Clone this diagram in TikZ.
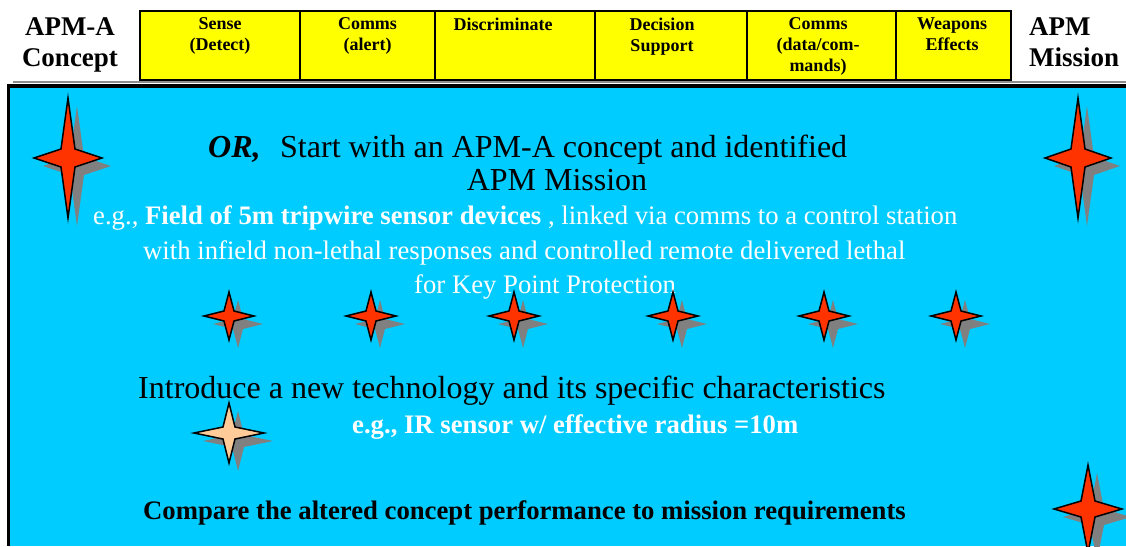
\documentclass[tikz,border=0pt]{standalone}
\usepackage{fontspec}
\setmainfont{Liberation Serif}
\definecolor{hdryellow}{HTML}{FFFF00}
\definecolor{bodyblue}{HTML}{00CCFF}
\definecolor{starred}{HTML}{FF3300}
\definecolor{starpeach}{HTML}{FFCC99}
\definecolor{shadowgray}{HTML}{808080}
\definecolor{rulegray}{HTML}{8C8C8C}
\tikzset{
  cell/.style={draw=black, line width=1.5pt, fill=hdryellow},
  celltext/.style={font=\fontsize{18}{21}\selectfont\bfseries, align=center, anchor=north, inner sep=0pt},
  sidetext/.style={font=\fontsize{27}{31}\selectfont\bfseries, inner sep=0pt},
  bigtext/.style={font=\fontsize{32}{33}\selectfont, inner sep=0pt, anchor=base west},
  midtext/.style={font=\fontsize{26.7}{35}\selectfont, inner sep=0pt, anchor=base west},
  starline/.style={draw=black, line width=1.5pt, line join=miter},
}
\newcommand\fourstarpath[4]{(#1,0) -- (#3,#4) -- (0,#2) -- (-#3,#4) -- (-#1,0) -- (-#3,-#4) -- (0,-#2) -- (#3,-#4) -- cycle}
\newcommand\drawfourstar[7]{%
  \begin{scope}[shift={(#1,#2)}]
    \begin{scope}[shift={(9,8)}]
      \fill[shadowgray] \fourstarpath{#3}{#4}{#5}{#6};
    \end{scope}
    \filldraw[starline, fill=#7] \fourstarpath{#3}{#4}{#5}{#6};
  \end{scope}}
\begin{document}
\begin{tikzpicture}[x=1pt, y=-1pt]
\useasboundingbox (0,0) rectangle (1126,546);
\fill[white] (0,0) rectangle (1126,546);
% body box
\fill[bodyblue] (9,86) rectangle (1126,546);
\draw[rulegray, line width=2pt] (13,82) -- (1126,82);
\draw[black, line width=4pt] (7,85.5) -- (1126,85.5);
\draw[black, line width=3pt] (8.5,84) -- (8.5,546);
% header cells
\draw[cell] (140,11) rectangle (300,80);
\draw[cell] (300,11) rectangle (435,80);
\draw[cell] (435,11) rectangle (595,80);
\draw[cell] (595,11) rectangle (747,80);
\draw[cell] (747,11) rectangle (896,80);
\draw[cell] (896,11) rectangle (1011,80);
\node[celltext] (c1) at (220,17.5) {Sense\\(Detect)};
\node[celltext] (c2) at (367.5,17.5) {Comms\\(alert)};
\node[celltext] (c3) at (503,17.5) {Discriminate};
\node[celltext] (c4) at (662,17.5) {Decision\\Support};
\node[celltext] (c5) at (818,17.5) {Comms\\(data/com-\\mands)};
\node[celltext] (c6) at (952,17.5) {Weapons\\Effects};
\node[sidetext, align=center, anchor=north] (concept) at (70,17) {APM-A\\Concept};
\node[sidetext, align=left, anchor=north west] (mission) at (1029,17) {APM\\Mission};
% body texts
\node[bigtext] (or) at (208,157) {\textbf{\textit{OR,}}};
\node[bigtext] (start) at (280,157) {Start with an APM-A concept and identified};
\node[bigtext, anchor=base] (apmm) at (557,190) {APM Mission};
\node[midtext, text=white] (eg1) at (93,224) {e.g., \textbf{Field of 5m tripwire sensor devices} , linked via comms to a control station};
\node[midtext, text=white] (eg2) at (143,259) {with infield non-lethal responses and controlled remote delivered lethal};
\node[midtext, text=white] (eg3) at (414,293) {for Key Point Protection};
\node[bigtext] (intro) at (138,398) {Introduce a new technology and its specific characteristics};
\node[midtext, text=white, font=\fontsize{26.7}{30}\selectfont\bfseries] (ir) at (352,433) {e.g., IR sensor w/ effective radius =10m};
\node[midtext, font=\fontsize{26.7}{30}\selectfont\bfseries] (compare) at (143,519) {Compare the altered concept performance to mission requirements};
% stars
\drawfourstar{68}{158}{34}{60}{7}{9}{starred}
\drawfourstar{1078}{158}{33}{60}{7}{9}{starred}
\drawfourstar{1088}{509}{34}{44}{7}{8}{starred}
\drawfourstar{229}{316}{25}{24}{5}{5}{starred}
\drawfourstar{371}{316}{25}{24}{5}{5}{starred}
\drawfourstar{514}{316}{25}{24}{5}{5}{starred}
\drawfourstar{673}{316}{25}{24}{5}{5}{starred}
\drawfourstar{824}{316}{25}{24}{5}{5}{starred}
\drawfourstar{956}{316}{25}{24}{5}{5}{starred}
\drawfourstar{229}{433}{35}{30}{6}{6}{starpeach}
\end{tikzpicture}
\end{document}
